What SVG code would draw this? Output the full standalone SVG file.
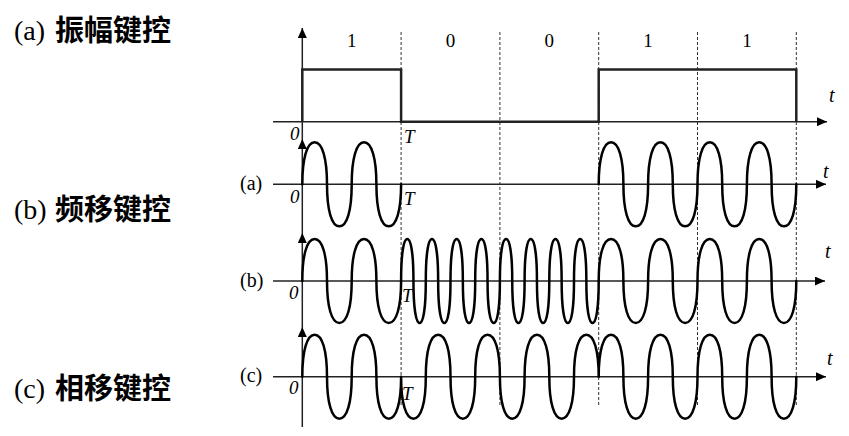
<svg xmlns="http://www.w3.org/2000/svg" width="849" height="436" viewBox="0 0 849 436">
<style>
.title{font-family:"Liberation Serif","Times New Roman",serif;font-size:28px;fill:#000}
.cjk{font-family:"Noto Sans CJK SC","Noto Sans",sans-serif;font-weight:bold;font-size:29px;fill:#000}
.lbl{font-family:"Liberation Serif","Times New Roman",serif;font-size:20px;fill:#000}
.bit{font-family:"Liberation Serif","Times New Roman",serif;font-size:19px;fill:#000;text-anchor:middle}
.it{font-family:"Liberation Serif","Times New Roman",serif;font-style:italic;font-size:19px;fill:#000}
.tt{font-family:"Liberation Serif","Times New Roman",serif;font-style:italic;font-size:20px;fill:#000}
.axis{stroke:#222;stroke-width:1.5;fill:none}
.dash{stroke:#333;stroke-width:1;stroke-dasharray:3 2;fill:none}
.wave{stroke:#000;stroke-width:2.5;fill:none;stroke-linejoin:round;stroke-linecap:round}
.sq{stroke:#222;stroke-width:2.5;fill:none;stroke-linejoin:miter}
</style>
<defs>
<marker id="arr" markerUnits="userSpaceOnUse" markerWidth="11" markerHeight="9" refX="10" refY="4.5" orient="auto">
<path d="M0,0 L10,4.5 L0,9 z" fill="#000"/>
</marker>
</defs>

<g id="titles">
<text class="title" x="14" y="40">(a)</text><text class="cjk" x="55" y="41">振幅键控</text>
<text class="title" x="14" y="219">(b)</text><text class="cjk" x="55" y="219.5">频移键控</text>
<text class="title" x="14" y="398">(c)</text><text class="cjk" x="55" y="398.5">相移键控</text>
</g>

<g id="connectors">
<line class="dash" x1="401.1" y1="32" x2="401.1" y2="406"/>
<line class="dash" x1="499.9" y1="32" x2="499.9" y2="406"/>
<line class="dash" x1="598.7" y1="32" x2="598.7" y2="406"/>
<line class="dash" x1="697.5" y1="32" x2="697.5" y2="406"/>
<line class="dash" x1="796.3" y1="32" x2="796.3" y2="406"/>
<line class="axis" x1="302.3" y1="139" x2="302.3" y2="28" marker-end="url(#arr)"/>
<line class="axis" x1="302.3" y1="233" x2="302.3" y2="139" marker-end="url(#arr)"/>
<line class="axis" x1="302.3" y1="327" x2="302.3" y2="233" marker-end="url(#arr)"/>
<line class="axis" x1="302.3" y1="427" x2="302.3" y2="327" marker-end="url(#arr)"/>
<line class="axis" x1="273" y1="121.7" x2="827" y2="121.7" marker-end="url(#arr)"/>
<line class="axis" x1="273" y1="184.3" x2="826" y2="184.3" marker-end="url(#arr)"/>
<line class="axis" x1="273" y1="281" x2="825" y2="281" marker-end="url(#arr)"/>
<line class="axis" x1="273" y1="376.7" x2="826" y2="376.7" marker-end="url(#arr)"/>
</g>

<g id="data">
<path class="sq" d="M302.3,121.7 V69.5 H401.1 V121.7 H598.7 V69.5 H796.3 V121.7"/>
<text class="bit" x="351.7" y="46.5">1</text>
<text class="bit" x="450.5" y="46.5">0</text>
<text class="bit" x="549.3" y="46.5">0</text>
<text class="bit" x="648.1" y="46.5">1</text>
<text class="bit" x="746.9" y="46.5">1</text>
<text class="it" x="290" y="140">0</text>
<text class="it" x="404" y="143">T</text>
<text class="tt" x="829" y="101.5">t</text>
</g>

<g id="ask">
<text class="lbl" x="240" y="189.5">(a)</text>
<path class="wave" d="M302.3,184.3 c0,-26.04 4.693,-42 12.35,-42 c7.657,0 12.35,15.96 12.35,42 c0,26.04 4.693,42 12.35,42 c7.657,0 12.35,-15.96 12.35,-42 c0,-26.04 4.693,-42 12.35,-42 c7.657,0 12.35,15.96 12.35,42 c0,26.04 4.693,42 12.35,42 c7.657,0 12.35,-15.96 12.35,-42
M598.7,184.3 c0,-26.04 4.693,-42 12.35,-42 c7.657,0 12.35,15.96 12.35,42 c0,26.04 4.693,42 12.35,42 c7.657,0 12.35,-15.96 12.35,-42 c0,-26.04 4.693,-42 12.35,-42 c7.657,0 12.35,15.96 12.35,42 c0,26.04 4.693,42 12.35,42 c7.657,0 12.35,-15.96 12.35,-42 c0,-26.04 4.693,-42 12.35,-42 c7.657,0 12.35,15.96 12.35,42 c0,26.04 4.693,42 12.35,42 c7.657,0 12.35,-15.96 12.35,-42 c0,-26.04 4.693,-42 12.35,-42 c7.657,0 12.35,15.96 12.35,42 c0,26.04 4.693,42 12.35,42 c7.657,0 12.35,-15.96 12.35,-42"/>
<text class="it" x="290" y="203">0</text>
<text class="it" x="404" y="204.5">T</text>
<text class="tt" x="823" y="178">t</text>
</g>

<g id="fsk">
<text class="lbl" x="240" y="287">(b)</text>
<path class="wave" d="M302.3,281 c0,-26.04 4.693,-42 12.35,-42 c7.657,0 12.35,15.96 12.35,42 c0,26.04 4.693,42 12.35,42 c7.657,0 12.35,-15.96 12.35,-42 c0,-26.04 4.693,-42 12.35,-42 c7.657,0 12.35,15.96 12.35,42 c0,26.04 4.693,42 12.35,42 c7.657,0 12.35,-15.96 12.35,-42
c0,-26.04 2.347,-42 6.175,-42 c3.829,0 6.175,15.96 6.175,42 c0,26.04 2.347,42 6.175,42 c3.829,0 6.175,-15.96 6.175,-42
c0,-26.04 2.347,-42 6.175,-42 c3.829,0 6.175,15.96 6.175,42 c0,26.04 2.347,42 6.175,42 c3.829,0 6.175,-15.96 6.175,-42
c0,-26.04 2.347,-42 6.175,-42 c3.829,0 6.175,15.96 6.175,42 c0,26.04 2.347,42 6.175,42 c3.829,0 6.175,-15.96 6.175,-42
c0,-26.04 2.347,-42 6.175,-42 c3.829,0 6.175,15.96 6.175,42 c0,26.04 2.347,42 6.175,42 c3.829,0 6.175,-15.96 6.175,-42
c0,-26.04 2.347,-42 6.175,-42 c3.829,0 6.175,15.96 6.175,42 c0,26.04 2.347,42 6.175,42 c3.829,0 6.175,-15.96 6.175,-42
c0,-26.04 2.347,-42 6.175,-42 c3.829,0 6.175,15.96 6.175,42 c0,26.04 2.347,42 6.175,42 c3.829,0 6.175,-15.96 6.175,-42
c0,-26.04 2.347,-42 6.175,-42 c3.829,0 6.175,15.96 6.175,42 c0,26.04 2.347,42 6.175,42 c3.829,0 6.175,-15.96 6.175,-42
c0,-26.04 2.347,-42 6.175,-42 c3.829,0 6.175,15.96 6.175,42 c0,26.04 2.347,42 6.175,42 c3.829,0 6.175,-15.96 6.175,-42
c0,-26.04 4.693,-42 12.35,-42 c7.657,0 12.35,15.96 12.35,42 c0,26.04 4.693,42 12.35,42 c7.657,0 12.35,-15.96 12.35,-42 c0,-26.04 4.693,-42 12.35,-42 c7.657,0 12.35,15.96 12.35,42 c0,26.04 4.693,42 12.35,42 c7.657,0 12.35,-15.96 12.35,-42 c0,-26.04 4.693,-42 12.35,-42 c7.657,0 12.35,15.96 12.35,42 c0,26.04 4.693,42 12.35,42 c7.657,0 12.35,-15.96 12.35,-42 c0,-26.04 4.693,-42 12.35,-42 c7.657,0 12.35,15.96 12.35,42 c0,26.04 4.693,42 12.35,42 c7.657,0 12.35,-15.96 12.35,-42"/>
<text class="it" x="289" y="298.5">0</text>
<text class="it" x="402" y="302">T</text>
<text class="tt" x="825" y="258">t</text>
</g>

<g id="psk">
<text class="lbl" x="240" y="381.5">(c)</text>
<path class="wave" d="M302.3,376.7 c0,-26.04 4.693,-42 12.35,-42 c7.657,0 12.35,15.96 12.35,42 c0,26.04 4.693,42 12.35,42 c7.657,0 12.35,-15.96 12.35,-42 c0,-26.04 4.693,-42 12.35,-42 c7.657,0 12.35,15.96 12.35,42 c0,26.04 4.693,42 12.35,42 c7.657,0 12.35,-15.96 12.35,-42
c0,26.04 4.693,42 12.35,42 c7.657,0 12.35,-15.96 12.35,-42 c0,-26.04 4.693,-42 12.35,-42 c7.657,0 12.35,15.96 12.35,42 c0,26.04 4.693,42 12.35,42 c7.657,0 12.35,-15.96 12.35,-42 c0,-26.04 4.693,-42 12.35,-42 c7.657,0 12.35,15.96 12.35,42 c0,26.04 4.693,42 12.35,42 c7.657,0 12.35,-15.96 12.35,-42 c0,-26.04 4.693,-42 12.35,-42 c7.657,0 12.35,15.96 12.35,42 c0,26.04 4.693,42 12.35,42 c7.657,0 12.35,-15.96 12.35,-42 c0,-26.04 4.693,-42 12.35,-42 c7.657,0 12.35,15.96 12.35,42
c0,-26.04 4.693,-42 12.35,-42 c7.657,0 12.35,15.96 12.35,42 c0,26.04 4.693,42 12.35,42 c7.657,0 12.35,-15.96 12.35,-42 c0,-26.04 4.693,-42 12.35,-42 c7.657,0 12.35,15.96 12.35,42 c0,26.04 4.693,42 12.35,42 c7.657,0 12.35,-15.96 12.35,-42 c0,-26.04 4.693,-42 12.35,-42 c7.657,0 12.35,15.96 12.35,42 c0,26.04 4.693,42 12.35,42 c7.657,0 12.35,-15.96 12.35,-42 c0,-26.04 4.693,-42 12.35,-42 c7.657,0 12.35,15.96 12.35,42 c0,26.04 4.693,42 12.35,42 c7.657,0 12.35,-15.96 12.35,-42"/>
<text class="it" x="289" y="393.5">0</text>
<text class="it" x="402" y="400">T</text>
<text class="tt" x="827" y="364.5">t</text>
</g>
</svg>
